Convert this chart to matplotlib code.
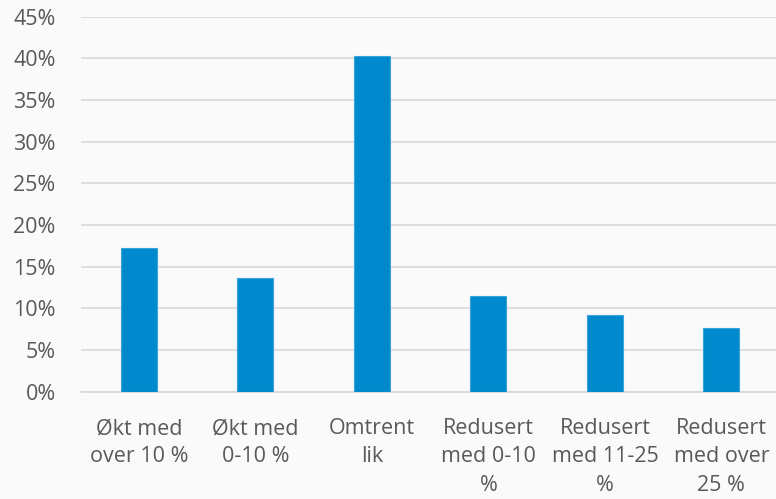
import matplotlib.pyplot as plt
from matplotlib.ticker import MultipleLocator, FuncFormatter

categories = ["Økt med\nover 10 %", "Økt med\n0-10 %", "Omtrent\nlik",
              "Redusert\nmed 0-10\n%", "Redusert\nmed 11-25\n%", "Redusert\nmed over\n25 %"]
values = [17.3, 13.7, 40.3, 11.5, 9.2, 7.6]

plt.rcParams['font.family'] = ['Open Sans', 'DejaVu Sans']

fig = plt.figure(figsize=(7.76, 4.99), dpi=100, facecolor='#fafafa')
ax = fig.add_axes([0.104, 0.215, 0.9007, 0.7513], facecolor='#fafafa')

x = range(len(categories))
ax.bar(x, values, width=0.31, color='#0089cd', edgecolor='#3aa3dc', linewidth=0.8, zorder=3)

ax.set_xlim(-0.5, len(categories) - 0.5)
ax.set_ylim(0, 45)
ax.yaxis.set_major_locator(MultipleLocator(5))
ax.yaxis.set_major_formatter(FuncFormatter(lambda v, p: f"{v:.0f}%"))
ax.grid(axis='y', color='#d9d9d9', linewidth=1.2, zorder=0)
ax.set_xticks(list(x))
ax.set_xticklabels(categories, linespacing=1.45)

for s in ['top', 'right', 'left']:
    ax.spines[s].set_visible(False)
ax.spines['bottom'].set_color('#d9d9d9')
ax.spines['bottom'].set_linewidth(1.2)

ax.tick_params(axis='both', length=0, labelsize=15.5, labelcolor='#595959')
ax.tick_params(axis='y', pad=18)
ax.tick_params(axis='x', pad=19)

fig.savefig('out.png', dpi=100, facecolor=fig.get_facecolor())
